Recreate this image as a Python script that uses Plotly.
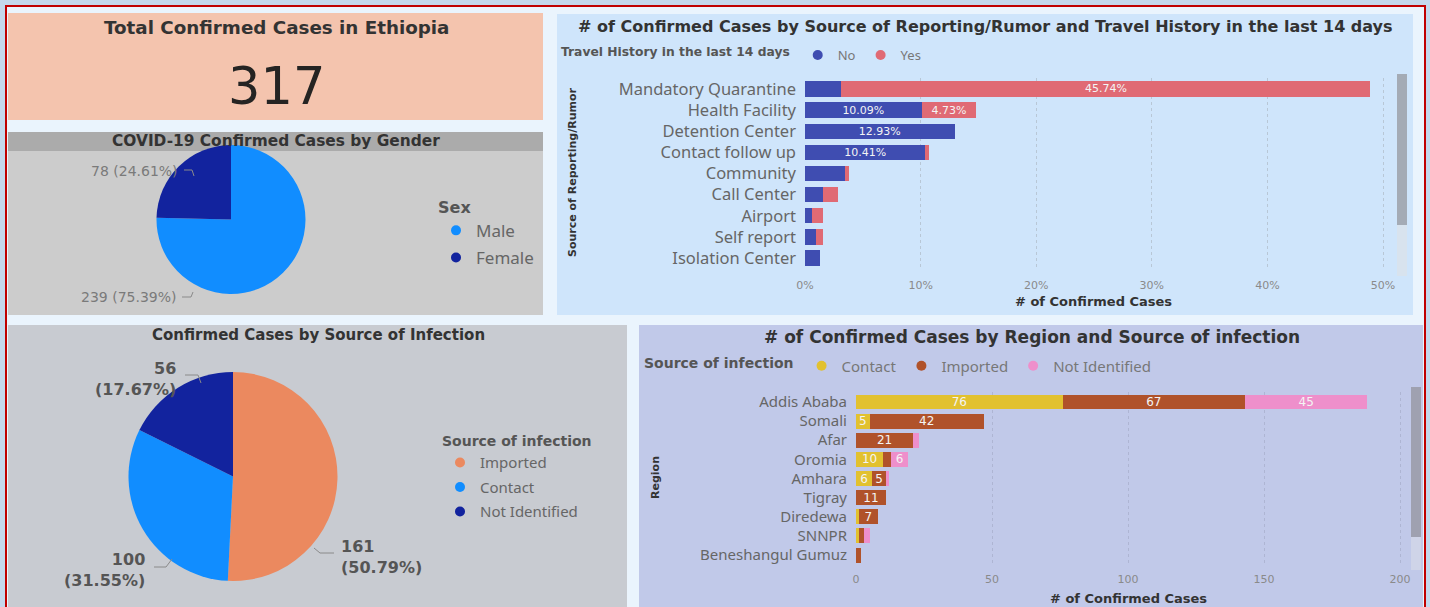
import plotly.graph_objects as go

W, H = 1430, 607

# ---------------- data ----------------
total_confirmed = 317

gender_labels = ["Male", "Female"]
gender_values = [239, 78]

infection_labels = ["Imported", "Contact", "Not Identified"]
infection_values = [161, 100, 56]

report_sources = ["Mandatory Quarantine", "Health Facility", "Detention Center",
                  "Contact follow up", "Community", "Call Center", "Airport",
                  "Self report", "Isolation Center"]
travel_no = [10, 32, 41, 33, 11, 5, 2, 3, 4]
travel_yes = [145, 15, 0, 1, 1, 4, 3, 2, 0]
pct_ticks = [0, 10, 20, 30, 40, 50]

regions = ["Addis Ababa", "Somali", "Afar", "Oromia", "Amhara", "Tigray",
           "Diredewa", "SNNPR", "Beneshangul Gumuz"]
region_contact = [76, 5, 0, 10, 6, 0, 1, 1, 0]
region_imported = [67, 42, 21, 3, 5, 11, 7, 2, 2]
region_not_identified = [45, 0, 2, 6, 1, 0, 0, 2, 0]
count_ticks = [0, 50, 100, 150, 200]

# ---------------- styles ----------------
TITLE_FONT = "DejaVu Sans, sans-serif"
NUM_FONT = "DejaVu Sans, sans-serif"
BODY_FONT = "Noto Sans, Open Sans, sans-serif"
C_MALE, C_FEMALE = "#118dff", "#12239e"
C_IMP, C_CON, C_NI = "#eb895f", "#118dff", "#12239e"
C_NO, C_YES = "#3f4db1", "#e06a74"
R_CON, R_IMP, R_NI = "#e2c12f", "#b0522a", "#ee8fcb"


def fx(x):
    return x / W


def fy(y):
    return 1 - y / H


shapes = []
annotations = []


def rect(x0, y0, x1, y1, fill, line=None, lw=0):
    shapes.append(dict(type="rect", xref="paper", yref="paper", layer="below",
                       x0=fx(x0), x1=fx(x1), y0=fy(y1), y1=fy(y0),
                       fillcolor=fill, line=dict(color=line or fill, width=lw)))


def path(pts, color="#8a8a8a"):
    d = "M " + " L ".join(f"{fx(x)},{fy(y)}" for x, y in pts)
    shapes.append(dict(type="path", xref="paper", yref="paper", path=d,
                       line=dict(color=color, width=1)))


def text(x, y, s, size, color, family=BODY_FONT, xanchor="center",
         yanchor="middle", angle=0, align="center"):
    annotations.append(dict(x=fx(x), y=fy(y), xref="paper", yref="paper",
                            text=s, showarrow=False, xanchor=xanchor,
                            yanchor=yanchor, textangle=angle, align=align,
                            font=dict(size=size, color=color, family=family)))


# ---------------- panels ----------------
rect(6, 6, 1425, 620, "#eaf4fd", "#c00000", 2)
rect(8, 13, 543, 120, "#f4c4ae")
rect(8, 132, 543, 151, "#ababab")
rect(8, 151, 543, 315, "#cccccc")
rect(557, 14, 1413, 315, "#cfe5fb")
rect(8, 325, 627, 612, "#c8cbd1")
rect(639, 325, 1423, 612, "#c1c9e9")

# scrollbars
rect(1397, 74, 1407, 276, "#d8e3ee")
rect(1397, 74, 1407, 225, "#a4abb5")
rect(1411, 387, 1421, 570, "#cfd4e8")
rect(1411, 387, 1421, 537, "#9fa1b0")

# ---------------- KPI card ----------------
text(276, 27, "<b>Total Confirmed Cases in Ethiopia</b>", 18.3, "#333333", TITLE_FONT)
text(276, 86, f"{total_confirmed}", 51, "#252423", NUM_FONT)

fig = go.Figure()

# ---------------- gender pie ----------------
text(276, 141, "<b>COVID-19 Confirmed Cases by Gender</b>", 15.4, "#333333", TITLE_FONT)
fig.add_trace(go.Pie(
    labels=gender_labels, values=gender_values, sort=False,
    direction="clockwise", rotation=0, textinfo="none", showlegend=False,
    marker=dict(colors=[C_MALE, C_FEMALE], line=dict(width=0)),
    domain=dict(x=[fx(156), fx(306)], y=[fy(294), fy(145)])))
g_tot = sum(gender_values)
g_lbl = [f"{v} ({v / g_tot * 100:.2f}%)" for v in gender_values]
text(180, 171, g_lbl[1], 14, "#7a7a7a", NUM_FONT, xanchor="right")
path([(184, 170), (192, 170), (194, 176)])
text(178, 297, g_lbl[0], 14, "#7a7a7a", NUM_FONT, xanchor="right")
path([(182, 297), (191, 297), (193, 292)])

# ---------------- infection pie ----------------
text(318, 335, "<b>Confirmed Cases by Source of Infection</b>", 15, "#333333", TITLE_FONT)
fig.add_trace(go.Pie(
    labels=infection_labels, values=infection_values, sort=False,
    direction="clockwise", rotation=0, textinfo="none", showlegend=False,
    marker=dict(colors=[C_IMP, C_CON, C_NI], line=dict(width=0)),
    domain=dict(x=[fx(128), fx(338)], y=[fy(581), fy(372)])))
i_tot = sum(infection_values)
i_lbl = [f"<b>{v}<br>({v / i_tot * 100:.2f}%)</b>" for v in infection_values]
text(339, 557, i_lbl[0], 16, "#555555", NUM_FONT, xanchor="left", align="left")
path([(314, 548), (320, 553), (334, 553)])
text(147, 570, i_lbl[1], 16, "#555555", NUM_FONT, xanchor="right", align="right")
path([(154, 567), (166, 567), (172, 559)])
text(178, 379, i_lbl[2], 16, "#555555", NUM_FONT, xanchor="right", align="right")
path([(185, 375), (198, 375), (201, 383)])

# ---------------- travel bars ----------------
text(985, 26, "<b># of Confirmed Cases by Source of Reporting/Rumor and Travel History in the last 14 days</b>",
     16, "#333333", TITLE_FONT)
no_pct = [v / total_confirmed * 100 for v in travel_no]
yes_pct = [v / total_confirmed * 100 for v in travel_yes]


def pct_lbl(p):
    return f"{p:.2f}%" if p >= 4 else ""


for vals, col, nm in [(no_pct, C_NO, "No"), (yes_pct, C_YES, "Yes")]:
    fig.add_trace(go.Bar(
        y=report_sources, x=vals, orientation="h", name=nm, marker_color=col,
        marker_line_width=0, width=0.72, text=[pct_lbl(p) for p in vals],
        textposition="inside", insidetextanchor="middle", textangle=0,
        constraintext="none",
        textfont=dict(color="#f4f4f4", size=11, family=NUM_FONT),
        xaxis="x", yaxis="y", showlegend=False))

text(572, 172, "<b>Source of Reporting/Rumor</b>", 11, "#333333", TITLE_FONT, angle=-90)
text(1093, 302, "<b># of Confirmed Cases</b>", 13, "#333333", TITLE_FONT)

# ---------------- region bars ----------------
text(1032, 337, "<b># of Confirmed Cases by Region and Source of infection</b>", 17, "#333333", TITLE_FONT)


def cnt_lbl(v):
    return f"{v}" if v >= 5 else ""


for vals, col, nm in [(region_contact, R_CON, "Contact"),
                      (region_imported, R_IMP, "Imported"),
                      (region_not_identified, R_NI, "Not Identified")]:
    fig.add_trace(go.Bar(
        y=regions, x=vals, orientation="h", name=nm, marker_color=col,
        marker_line_width=0, width=0.78, text=[cnt_lbl(v) for v in vals],
        textposition="inside", insidetextanchor="middle", textangle=0,
        constraintext="none",
        textfont=dict(color="#f4f4f4", size=12, family=NUM_FONT),
        xaxis="x2", yaxis="y2", showlegend=False))

text(655, 478, "<b>Region</b>", 11, "#333333", TITLE_FONT, angle=-90)
text(1128, 598, "<b># of Confirmed Cases</b>", 13, "#333333", TITLE_FONT)

# ---------------- legends (circle markers) ----------------
legend_sets = [
    ("legend", gender_labels, [C_MALE, C_FEMALE]),
    ("legend2", ["No", "Yes"], [C_NO, C_YES]),
    ("legend3", infection_labels, [C_IMP, C_CON, C_NI]),
    ("legend4", ["Contact", "Imported", "Not Identified"], [R_CON, R_IMP, R_NI]),
]
for lg, names, cols in legend_sets:
    for nm, col in zip(names, cols):
        fig.add_trace(go.Scatter(
            x=[None], y=[None], mode="markers", name=nm, legend=lg,
            legendgroup=lg + nm,
            marker=dict(color=col, size=10, symbol="circle"),
            xaxis="x3", yaxis="y3", showlegend=True))

common_leg = dict(bgcolor="rgba(0,0,0,0)", borderwidth=0, itemwidth=30,
                  itemclick=False, itemdoubleclick=False)

fig.update_layout(
    width=W, height=H, margin=dict(l=0, r=0, t=0, b=0, pad=0),
    paper_bgcolor="#c4d8ec", plot_bgcolor="rgba(0,0,0,0)",
    barmode="stack", bargap=0.2,
    font=dict(family=BODY_FONT, color="#666666"),
    shapes=shapes, annotations=annotations,
    xaxis=dict(domain=[fx(805), fx(1390)], range=[0, 585 / 11.56], anchor="y",
               tickvals=pct_ticks, ticktext=[f"{t}%" for t in pct_ticks],
               showgrid=True, griddash="dot", gridcolor="#b8c7d6", gridwidth=1,
               zeroline=False, showline=False, ticks="", automargin=False,
               tickfont=dict(size=11, color="#8a8a8a", family=NUM_FONT),
               ticklabelstandoff=8, fixedrange=True),
    yaxis=dict(domain=[fy(268.6), fy(78.4)], anchor="x", type="category",
               categoryorder="array", categoryarray=report_sources,
               tickmode="array", tickvals=report_sources, ticktext=report_sources,
               autorange="reversed", showgrid=False, zeroline=False, ticks="",
               automargin=False,
               tickfont=dict(size=16.5, color="#666666"), ticklabelstandoff=8,
               fixedrange=True),
    xaxis2=dict(domain=[fx(856), fx(1405)], range=[0, 549 / 2.72], anchor="y2",
                tickvals=count_ticks, showgrid=True, griddash="dot",
                gridcolor="#aeb5d3", zeroline=False, showline=False, ticks="",
                automargin=False,
                tickfont=dict(size=11, color="#8a8a8a", family=NUM_FONT),
                ticklabelstandoff=6, fixedrange=True),
    yaxis2=dict(domain=[fy(564.6), fy(392.4)], anchor="x2", type="category",
                categoryorder="array", categoryarray=regions,
                tickmode="array", tickvals=regions, ticktext=regions,
                autorange="reversed", showgrid=False, zeroline=False, ticks="",
                automargin=False,
                tickfont=dict(size=15, color="#666666"), ticklabelstandoff=8,
                fixedrange=True),
    xaxis3=dict(domain=[0, 0.001], visible=False, anchor="y3", automargin=False),
    yaxis3=dict(domain=[0, 0.001], visible=False, anchor="x3", automargin=False),
    legend=dict(title=dict(text="<b>Sex</b>", font=dict(size=16, color="#555555", family=TITLE_FONT)),
                font=dict(size=17, color="#666666"), x=fx(436), y=fy(192),
                xanchor="left", yanchor="top", tracegroupgap=2, **common_leg),
    legend2=dict(title=dict(text="<b>Travel History in the last 14 days</b>", side="left",
                            font=dict(size=12.3, color="#555555", family=TITLE_FONT)),
                 orientation="h", font=dict(size=13, color="#777777"),
                 x=fx(559), y=fy(55), xanchor="left", yanchor="middle",
                 **common_leg),
    legend3=dict(title=dict(text="<b>Source of infection</b>",
                            font=dict(size=14, color="#555555", family=TITLE_FONT)),
                 font=dict(size=15, color="#666666"), x=fx(440), y=fy(428),
                 xanchor="left", yanchor="top", tracegroupgap=2, **common_leg),
    legend4=dict(title=dict(text="<b>Source of infection</b>", side="left",
                            font=dict(size=14, color="#555555", family=TITLE_FONT)),
                 orientation="h", font=dict(size=15, color="#777777"),
                 x=fx(642), y=fy(366), xanchor="left", yanchor="middle",
                 **common_leg),
)

fig.write_html(
    "out.html",
    config={"displayModeBar": False},
    post_script="document.body.style.margin='0';document.body.style.padding='0';"
                "document.body.style.overflow='hidden';"
                "document.body.style.background='#c4d8ec';",
)
